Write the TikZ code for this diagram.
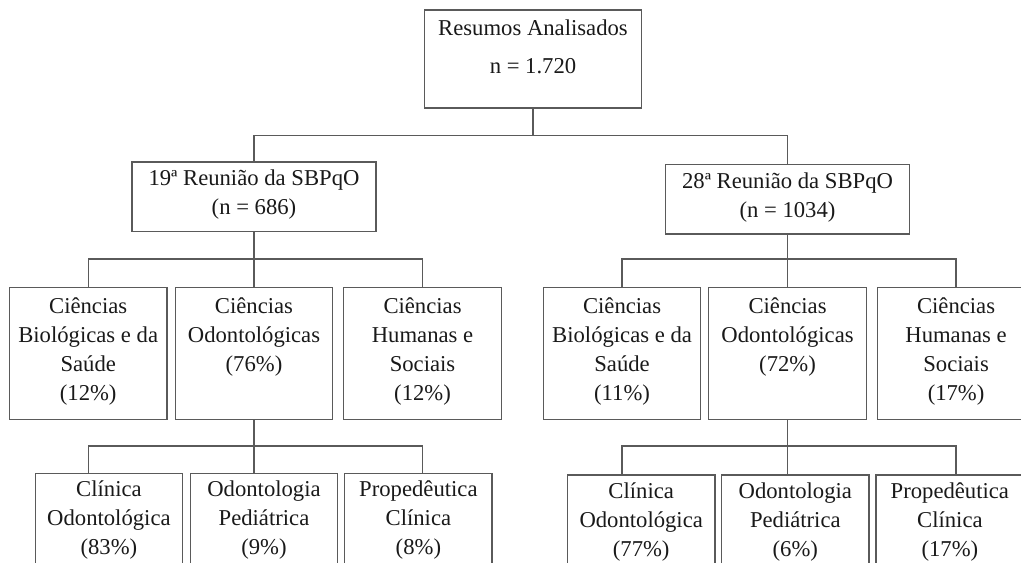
\documentclass[tikz,border=0pt]{standalone}
\usepackage{fontspec}
\setmainfont{Liberation Serif}
\usepackage{xcolor}
\usepackage{tikz}
\usetikzlibrary{positioning}
\definecolor{edge}{RGB}{90, 90, 90}
\tikzstyle{box} = [rectangle, draw=edge, line width=1pt, align=center, text=black!90, font=\fontsize{17pt}{21.7pt}\selectfont, execute at begin node=\strut, execute at end node=\strut, inner sep=0pt]
\tikzstyle{topbox} = [box, minimum width=162.75pt, minimum height=73.5pt]
\tikzstyle{meetbox} = [box, minimum width=183pt, minimum height=52pt]
\tikzstyle{areabox} = [box, minimum width=118.1pt, minimum height=98.8pt]
\tikzstyle{subbox} = [box, minimum width=110.6pt, minimum height=73pt]
\tikzstyle{conn} = [draw=edge, line width=1pt]

\begin{document}
\begin{tikzpicture}
\path[use as bounding box, clip] (0,0) rectangle (765.75pt,-422.25pt);

\node[topbox] (total) at (399.75pt,-44.25pt) {Resumos Analisados\\[6.8pt]n = 1.720\\[-9.3pt]};

\node[meetbox, below=39.5pt of total, xshift=-209.25pt] (meet19) {19ª Reunião da SBPqO\\(n = 686)};
\node[meetbox, below=41.5pt of total, xshift=190.9pt] (meet28) {28ª Reunião da SBPqO\\(n = 1034)};

% areas, 19a reuniao
\node[areabox, below=41.25pt of meet19] (odonto19) {Ciências\\Odontológicas\\(76\%)\\};
\node[areabox, left=5.25pt of odonto19] (bio19) {Ciências\\Biológicas e da\\Saúde\\(12\%)};
\node[areabox, right=7.3pt of odonto19] (hum19) {Ciências\\Humanas e\\Sociais\\(12\%)};

% areas, 28a reuniao
\node[areabox, below=39.3pt of meet28] (odonto28) {Ciências\\Odontológicas\\(72\%)\\};
\node[areabox, left=5pt of odonto28] (bio28) {Ciências\\Biológicas e da\\Saúde\\(11\%)};
\node[areabox, right=7.3pt of odonto28] (hum28) {Ciências\\Humanas e\\Sociais\\(17\%)};

% subareas
\node[subbox, below=39.5pt of odonto19, xshift=7.5pt] (ped19) {Odontologia\\Pediátrica\\(9\%)};
\node[subbox, left=4.7pt of ped19] (clin19) {Clínica\\Odontológica\\(83\%)};
\node[subbox, right=4.2pt of ped19] (prop19) {Propedêutica\\Clínica\\(8\%)};

\node[subbox, below=40.7pt of odonto28, xshift=5.85pt] (ped28) {Odontologia\\Pediátrica\\(6\%)};
\node[subbox, left=4pt of ped28] (clin28) {Clínica\\Odontológica\\(77\%)};
\node[subbox, right=4.3pt of ped28] (prop28) {Propedêutica\\Clínica\\(17\%)};

% junctions
\coordinate[below=20.25pt of total] (j0);
\coordinate[below=20.25pt of meet19] (j19);
\coordinate[below=18.3pt of meet28] (j28);
\coordinate[below=19.5pt of odonto19] (k19);
\coordinate[below=19.5pt of odonto28] (k28);

\draw[conn] (total) -- (j0);
\draw[conn] (meet19.north) |- (j0) -| (meet28.north);

\draw[conn] (meet19) -- (odonto19);
\draw[conn] (bio19.north) |- (j19) -| (hum19.north);
\draw[conn] (meet28) -- (odonto28);
\draw[conn] (bio28.north) |- (j28) -| (hum28.north);

\draw[conn] (odonto19) -- (odonto19 |- ped19.north);
\draw[conn] (bio19 |- clin19.north) |- (k19) -| (hum19 |- prop19.north);
\draw[conn] (odonto28) -- (odonto28 |- ped28.north);
\draw[conn] (bio28 |- clin28.north) |- (k28) -| (hum28 |- prop28.north);

\end{tikzpicture}
\end{document}
